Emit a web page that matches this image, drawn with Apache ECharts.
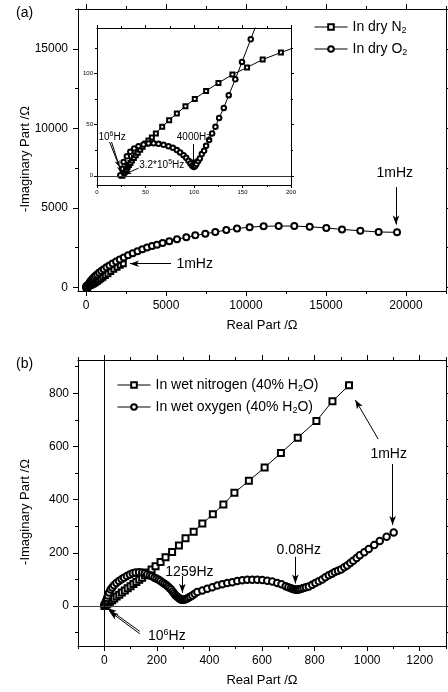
<!DOCTYPE html>
<html><head><meta charset="utf-8">
<script src="https://cdn.jsdelivr.net/npm/echarts@6/dist/echarts.min.js"></script>
<style>html,body{margin:0;padding:0;background:#fff}#c{width:448px;height:692px}</style>
</head><body><div id="c"></div>
<script>
// ---------- data ----------
const dryN2 = [[26,0],[26.5,1],[27.5,2],[28.5,3.5],[29.5,5],[30.5,6.5],[31.5,8.5],[33,10.5],[34.5,12.5],[36,15],[38,17.5],[40,20],[42,22.5],[44.5,25.5],[47,28.5],[50,31.5],[53,34.5],[56.6,37.5],[60.7,41.4],[67.2,47.9],[74.4,54.4],[82.3,60.9],[91.2,68],[100.8,75.2],[112.5,83],[125.2,90.8],[139.6,99],[154.7,105.9],[170.8,113.7],[189.6,120.5],[211,128],[236,136],[265,145],[298,156],[336,170],[380,188],[430,212],[488,243],[555,282],[632,330],[720,390],[820,460],[935,540],[1065,635],[1210,740],[1370,860],[1550,990],[1740,1130],[1940,1270],[2140,1390],[2330,1480]];
const dryO2 = [[24,0.5],[25.7,7],[27.4,13.5],[30.8,19],[34.3,23.4],[38.4,26.7],[42.8,29],[48,30.6],[53.1,31.6],[58.3,31.8],[63.4,31.3],[68.6,30.3],[73.7,29],[78.2,27.4],[82.3,25.1],[85.7,22.8],[89.2,20.2],[91.9,17.6],[94.3,14.7],[96.3,12.1],[98.1,9.8],[99.8,8.5],[101.2,9.5],[102.5,11.5],[104.3,14.4],[106,17],[108,21.2],[110.4,24.4],[112.5,29.3],[115.6,34.9],[118.7,41.4],[122.1,47.9],[125.9,56.6],[130.7,66.4],[135.8,78.8],[142.6,94.4],[149.5,111.3],[158.5,133.5],[168,157],[180,188],[196,225],[218,270],[248,322],[288,382],[340,450],[405,528],[485,615],[580,710],[690,810],[815,915],[955,1025],[1110,1140],[1280,1260],[1465,1380],[1665,1500],[1880,1625],[2110,1750],[2360,1880],[2630,2010],[2920,2140],[3220,2270],[3520,2390],[3820,2500],[4125,2597],[4437,2679],[4787,2786],[5206,2893],[5687,3019],[6269,3144],[6831,3270],[7456,3371],[8081,3478],[8769,3600],[9438,3700],[10225,3780],[11100,3840],[12040,3855],[13019,3850],[13979,3811],[15019,3730],[16000,3640],[17144,3560],[18290,3480],[19438,3459]];
const wetN2 = [[1,0],[4,3],[9,6],[15,11],[22,16],[30,22],[38,29],[47,36],[57,43],[67,51],[78,59],[89,67],[100,75],[111,83],[122,91],[133,99],[144,107],[155,116],[167,126],[180,138],[195,150],[214,166],[233,184],[258,203],[284,228],[309,255],[340,279],[373,310],[413,345],[453,382],[495,426],[550,471],[610,521],[672,575],[736,633],[807,696],[868,770],[931,830]];
const wetO2 = [[0,0],[1,4],[3,9],[5,15],[8,22],[11,30],[14,40],[18,51],[24,62],[30,70],[37,78],[46,87],[56,94],[66,101],[75,107],[86,113],[97,119],[108,123],[119,126],[132,127],[144,126],[154,123],[163,119],[173,115],[182,112],[191,107],[199,103],[207,99],[214,94],[222,89],[229,84],[236,79],[242,74],[248,68],[254,62],[260,55],[265,48],[270,42],[275,37],[280,33],[284,30],[288,27],[292,25],[296,24],[300,24],[304,25],[309,26],[314,28],[320,31],[327,35],[335,40],[344,46],[354,53],[373,59],[392,65],[411,71],[430,77],[449,82],[468,87],[487,90],[506,94],[525,97],[544,99],[563,99],[582,99],[601,98],[620,95],[639,92],[658,87],[674,82],[690,75],[700,71],[710,67],[718,64],[725,62],[731,61],[737,62],[743,63],[750,65],[758,68],[767,71],[778,74],[791,80],[803,87],[816,93],[829,100],[841,108],[854,116],[866,122],[877,128],[889,133],[901,138],[913,146],[924,153],[936,162],[947,170],[960,181],[972,191],[989,202],[1006,215],[1027,230],[1048,245],[1074,261],[1101,277]];

// tick values
const topXMajor = [0,5000,10000,15000,20000];
const topXMinor = [2500,7500,12500,17500,22500];
const topYMajor = [0,5000,10000,15000];
const topYMinor = [2500,7500,12500,17500];
const insXMajor = [0,50,100,150,200];
const insXMinor = [25,75,125,175];
const insYMajor = [0,50,100];
const insYMinor = [25,75,125];
const botXMajor = [0,200,400,600,800,1000,1200];
const botXMinor = [-100,100,300,500,700,900,1100,1300];
const botYMajor = [0,200,400,600,800];
const botYMinor = [-100,100,300,500,700,900];

const F = '"Liberation Sans", Arial, Helvetica, sans-serif';
const K = '#000';

function axes(dim, grid, min, max, major, minor, o) {
  const pA = dim === 'x' ? 'bottom' : 'left';
  const pB = dim === 'x' ? 'top' : 'right';
  const base = {type:'value', gridIndex:grid, min:min, max:max, splitLine:{show:false}, axisPointer:{show:false}};
  const line = {show:true, onZero:false, lineStyle:{color:K, width:1}};
  const noline = {show:false, onZero:false};
  const tk = (vals, len) => ({show:true, inside:false, length:len, customValues:vals, lineStyle:{color:K, width:1}});
  const main = Object.assign({}, base, {
    position:pA, axisLine:line, axisTick:tk(major, o.maj),
    axisLabel:{show:true, customValues:major, margin:o.margin, fontSize:o.fs, color:K, fontFamily:F, formatter: v => String(v)}
  });
  if (o.name) {
    main.name = o.name; main.nameLocation = 'middle'; main.nameGap = o.nameGap;
    main.nameTextStyle = {fontSize:13, color:K, fontFamily:F};
  }
  return [
    main,
    Object.assign({}, base, {position:pA, axisLine:noline, axisTick:tk(minor, o.mn), axisLabel:{show:false}}),
    Object.assign({}, base, {position:pB, axisLine:line, axisTick:tk(major, o.maj), axisLabel:{show:false}}),
    Object.assign({}, base, {position:pB, axisLine:noline, axisTick:tk(minor, o.mn), axisLabel:{show:false}})
  ];
}

const xAxis = [].concat(
  axes('x', 0, -500, 22500, topXMajor, topXMinor, {maj:5, mn:3, margin:9, fs:12, name:'Real Part /\u03A9', nameGap:28}),
  axes('x', 1, 0, 200, insXMajor, insXMinor, {maj:3, mn:2, margin:4, fs:6}),
  axes('x', 2, -100, 1300, botXMajor, botXMinor, {maj:5, mn:3, margin:9, fs:12, name:'Real Part /\u03A9', nameGap:28})
);
const yAxis = [].concat(
  axes('y', 0, -230, 17500, topYMajor, topYMinor, {maj:5, mn:3, margin:10, fs:12}),
  axes('y', 1, -9, 144.5, insYMajor, insYMinor, {maj:3, mn:2, margin:4, fs:6}),
  axes('y', 2, -150, 925, botYMajor, botYMinor, {maj:5, mn:3, margin:9, fs:12})
);

const legendNames = {
  'In dry N2':'{a|In dry N}{s|2}',
  'In dry O2':'{a|In dry O}{s|2}',
  'In wet nitrogen (40% H2O)':'{a|In wet nitrogen (40% H}{s|2}{a|O)}',
  'In wet oxygen (40% H2O)':'{a|In wet oxygen (40% H}{s|2}{a|O)}'
};
const legRich = {a:{fontSize:14, color:K, fontFamily:F}, s:{fontSize:9, color:K, fontFamily:F, padding:[7,0,0,0]}};
function legend(names, left, top) {
  return {data:names, left:left, top:top, orient:'vertical', align:'left', padding:0, itemWidth:33, itemHeight:7, itemGap:7,
    selectedMode:false, lineStyle:{width:1, color:K}, itemStyle:{borderWidth:1},
    formatter: n => legendNames[n], textStyle:{color:K, fontFamily:F, rich:legRich}};
}

const annRich = (big, small, lift) => ({t:{fontSize:big, color:K, fontFamily:F}, p:{fontSize:small, color:K, fontFamily:F, padding:[0,0,lift,0]}});
function txt(x, y, str, pos, big, small, lift) {
  return {coord:[x,y], symbol:'circle', symbolSize:1, itemStyle:{color:'rgba(0,0,0,0)'},
    label:{show:true, position:pos, distance:0, formatter:str, rich:annRich(big, small, lift)}};
}
function arrows(list, size) {
  return {silent:true, animation:false, symbol:['none','arrow'], symbolSize:size, label:{show:false},
    lineStyle:{color:K, width:1, type:'solid'}, emphasis:{disabled:true},
    data:list.map(a => [{coord:[a[0],a[1]]},{coord:[a[2],a[3]]}])};
}
function refLines(list) {
  return {silent:true, animation:false, symbol:['none','none'], label:{show:false}, emphasis:{disabled:true},
    data:list};
}
function ser(name, data, xi, sym, size, extra) {
  return Object.assign({type:'line', name:name, data:data, xAxisIndex:xi, yAxisIndex:xi, symbol:sym, symbolSize:size,
    showAllSymbol:true, clip:true, animation:false, color:K, lineStyle:{color:K, width:1},
    itemStyle:{color:K, borderColor:K, borderWidth:1}, emphasis:{disabled:true}}, extra || {});
}

const yTitle = (y) => ({type:'text', x:25, y:y, rotation:Math.PI/2,
  style:{text:'-Imaginary Part /\u03A9', fontSize:13, fill:K, fontFamily:F, align:'center', verticalAlign:'middle'}});

const option = {
  backgroundColor:'#fff',
  animation:false,
  grid:[
    {left:78, top:9, width:368, height:282},
    {left:97, top:28, width:194, height:157},
    {left:78, top:360, width:368, height:286}
  ],
  xAxis:xAxis,
  yAxis:yAxis,
  legend:[
    legend(['In dry N2','In dry O2'], 314, 20),
    legend(['In wet nitrogen (40% H2O)','In wet oxygen (40% H2O)'], 117, 378)
  ],
  graphic:[
    {type:'text', left:16, top:6, style:{text:'(a)', fontSize:14, fill:K, fontFamily:F}},
    {type:'text', left:16, top:357, style:{text:'(b)', fontSize:14, fill:K, fontFamily:F}},
    yTitle(159),
    yTitle(512)
  ],
  series:[
    ser('In dry N2', dryN2, 0, 'emptyRect', 5, {
      markLine: arrows([[5312,1484,2750,1484]], [5,9]),
      markPoint:{silent:true, animation:false, data:[txt(5620,1484,'{t|1mHz}','right',14,9,7)]}
    }),
    ser('In dry O2', dryO2, 0, 'emptyCircle', 6, {
      markLine: arrows([[19375,6300,19375,3950]], [5,9]),
      markPoint:{silent:true, animation:false, data:[txt(19300,7200,'{t|1mHz}','inside',14,9,7)]}
    }),
    ser('insN2', dryN2, 4, 'emptyRect', 4, {
      markLine: refLines([[{coord:[0,0], lineStyle:{color:'#333', width:1, type:'solid'}},{coord:[200,0]}]])
    }),
    ser('insO2', dryO2, 4, 'emptyCircle', 4.5, {
      markLine: arrows([[13,33,23,9],[15,33,25,3.5],[42.8,7.5,29,1.6],[99.4,31,99.4,11]], [4,6]),
      markPoint:{silent:true, animation:false, data:[
        txt(1,38,'{t|10}{p|6}{t|Hz}','right',10,7,5),
        txt(43,10.5,'{t|3.2*10}{p|5}{t|Hz}','right',10,7,5),
        txt(100,38,'{t|4000Hz}','inside',10,7,5)
      ]}
    }),
    ser('In wet nitrogen (40% H2O)', wetN2, 8, 'emptyRect', 6, {
      markLine: refLines([
        [{coord:[-100,0], lineStyle:{color:'#444', width:1, type:'solid'}},{coord:[1300,0]}],
        [{coord:[0,-150], lineStyle:{color:K, width:1, type:'solid'}},{coord:[0,925]}]
      ])
    }),
    ser('In wet oxygen (40% H2O)', wetO2, 8, 'emptyCircle', 6.5, {
      markLine: arrows([[1042,628,955,775],[1097,534,1097,305],[727,185,727,85],[297,113,297,50],[135,-95,12,-8],[135,-104,20,-20]], [5,9]),
      markPoint:{silent:true, animation:false, data:[
        txt(1082,570,'{t|1mHz}','inside',14,9,7),
        txt(740,210,'{t|0.08Hz}','inside',14,9,7),
        txt(324,126,'{t|1259Hz}','inside',14,9,7),
        txt(238,-114,'{t|10}{p|6}{t|Hz}','inside',14,9,7)
      ]}
    })
  ]
};
const chart = echarts.init(document.getElementById('c'), null, {renderer:'canvas'});
chart.setOption(option);
</script></body></html>
